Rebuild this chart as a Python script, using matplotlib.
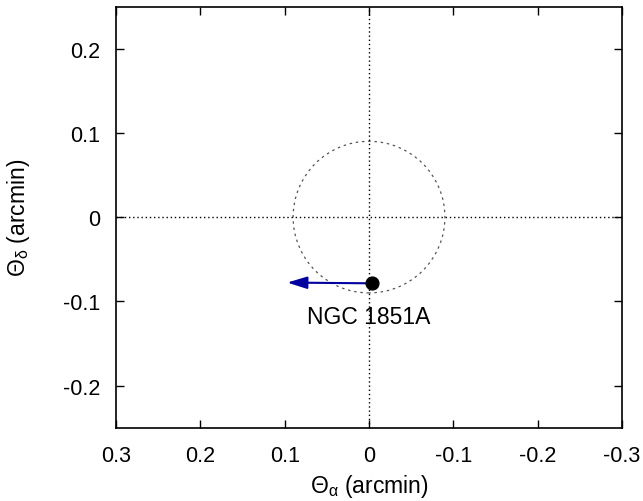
import numpy as np
import matplotlib
matplotlib.use("Agg")
import matplotlib.pyplot as plt
from matplotlib.patches import Circle

plt.rcParams['font.family'] = ['Liberation Sans', 'DejaVu Sans']
plt.rcParams['mathtext.fontset'] = 'custom'
plt.rcParams['mathtext.rm'] = 'Liberation Sans'
plt.rcParams['mathtext.it'] = 'Liberation Sans'

# Data
pulsar_name = "NGC 1851A"
pos_x = [-0.004]
pos_y = [-0.0786]
arrow_end_x = 0.097
arrow_end_y = -0.0777
core_radius = 0.09
xticks = [0.3, 0.2, 0.1, 0, -0.1, -0.2, -0.3]
xticklabels = ['0.3', '0.2', '0.1', '0', '-0.1', '-0.2', '-0.3']
yticks = [-0.2, -0.1, 0, 0.1, 0.2]
yticklabels = ['-0.2', '-0.1', '0', '0.1', '0.2']

fig = plt.figure(figsize=(6.43, 5.02), dpi=100)
ax = fig.add_axes([0.1804, 0.146, 0.787, 0.839])
ax.set_xlim(0.3, -0.3)
ax.set_ylim(-0.25, 0.25)

ax.axhline(0, color='black', ls=(0, (1, 2)), lw=1)
ax.axvline(0, color='black', ls=(0, (1, 2)), lw=1)

circ = Circle((0, 0), core_radius, fill=False, ec='#555555', ls=(0, (2, 3)), lw=0.9)
ax.add_patch(circ)

ax.annotate('', xy=(arrow_end_x, arrow_end_y), xytext=(pos_x[0], pos_y[0]),
            arrowprops=dict(arrowstyle='-|>,head_length=1.2,head_width=0.37',
                            color='#0000a0', lw=1.5, shrinkA=0, shrinkB=0))
ax.plot(pos_x, pos_y, 'o', color='black', ms=9.2, zorder=5)
ax.text(0.0, -0.1185, pulsar_name, ha='center', va='center', fontsize=16.5)

ax.set_xticks(xticks)
ax.set_xticklabels(xticklabels)
ax.set_yticks(yticks)
ax.set_yticklabels(yticklabels)
ax.tick_params(direction='in', top=True, right=True, length=5.8, width=1, labelsize=15.5)
ax.tick_params(axis='x', pad=12.5)
ax.tick_params(axis='y', pad=11.5)
for s in ax.spines.values():
    s.set_linewidth(1.2)

ax.set_xlabel(r'$\Theta_\alpha$ (arcmin)', fontsize=16.5, va='center')
ax.set_ylabel(r'$\Theta_\delta$ (arcmin)', fontsize=16.5, va='center')
ax.xaxis.set_label_coords(0.5, -0.138)
ax.yaxis.set_label_coords(-0.192, 0.5)

fig.savefig('out.png', dpi=100)
